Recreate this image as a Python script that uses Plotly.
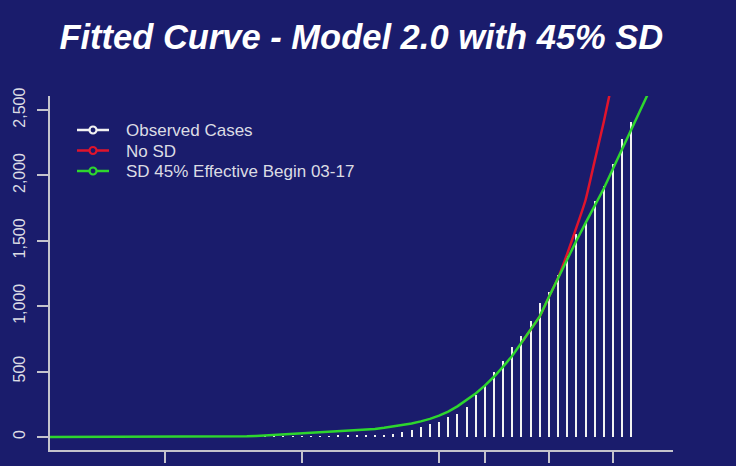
import plotly.graph_objects as go

# ---- data (day index; day 0 = first observed day) ----
obs_days = list(range(0, 41))
observed_cases = [1, 2, 2, 3, 4, 5, 7, 6, 8, 9, 11, 12, 16, 17, 22, 38, 56, 73, 96, 112,
                  155, 178, 229, 318, 394, 494, 578, 685, 774, 884, 1021, 1105, 1241, 1381,
                  1552, 1648, 1801, 1916, 2089, 2278, 2405]

model_days = list(range(-24, 43))
sd_curve = [0, 0, 0, 0, 0, 0, 0, 0, 0, 0, 0,
            1, 1, 1, 1, 2, 2, 2, 3, 3, 4, 4, 5,
            8, 12, 15, 18, 21, 25, 28, 32, 36, 40, 44, 48, 54, 61, 70, 80, 91, 103, 119,
            138, 163, 194, 234, 280, 332, 392, 460, 538, 620, 720, 820, 922, 1070, 1215,
            1355, 1500, 1635, 1765, 1900, 2050, 2200, 2350, 2500, 2650]

nosd_days = list(range(28, 39))
nosd_curve = [720, 820, 922, 1070, 1215, 1400, 1600, 1810, 2110, 2410, 2740]

y_tickvals = [0, 500, 1000, 1500, 2000, 2500]
y_ticktext = ["0", "500", "1,000", "1,500", "2,000", "2,500"]
x_tickvals = [-11, 4, 19, 24, 31, 38]

title_text = "Fitted Curve - Model 2.0 with 45% SD"
legend_names = ["Observed Cases", "No SD", "SD 45% Effective Begin 03-17"]

BG = "#1a1c6c"
AXIS = "#c4c4cc"
TXT = "#dcdce4"
WHITE = "#f2f2f2"
RED = "#e0142c"
GREEN = "#2ed62e"
legend_colors = [WHITE, RED, GREEN]

# plot area in pixels
L, R, T, B = 50, 673, 96, 450
W, H = 736, 466

fig = go.Figure()

fig.add_trace(go.Bar(x=obs_days, y=observed_cases, width=0.22,
                     marker=dict(color=WHITE, line=dict(width=0)),
                     showlegend=False, name=legend_names[0]))
fig.add_trace(go.Scatter(x=nosd_days, y=nosd_curve, mode="lines", name=legend_names[1],
                         line=dict(color=RED, width=2.5, shape="spline", smoothing=0.6),
                         showlegend=False))
fig.add_trace(go.Scatter(x=model_days, y=sd_curve, mode="lines", name=legend_names[2],
                         line=dict(color=GREEN, width=2.5), showlegend=False))

# hand-built legend (line + point + label), positioned in paper coordinates
def px_x(p):
    return (p - L) / (R - L)

def px_y(p):
    return (B - p) / (B - T)

shapes = []
annotations = []
row_y = [130, 150.5, 171]
for name, col, ry in zip(legend_names, legend_colors, row_y):
    shapes.append(dict(type="line", xref="paper", yref="paper",
                       x0=px_x(77), x1=px_x(109), y0=px_y(ry), y1=px_y(ry),
                       line=dict(color=col, width=2.5)))
    shapes.append(dict(type="circle", xref="paper", yref="paper",
                       x0=px_x(89.5), x1=px_x(96.5), y0=px_y(ry + 3.5), y1=px_y(ry - 3.5),
                       line=dict(color=col, width=2.2), fillcolor=BG))
    annotations.append(dict(text=name, xref="paper", yref="paper",
                            x=px_x(124), y=px_y(ry + 0.5), xanchor="left", yanchor="middle",
                            showarrow=False,
                            font=dict(family="Liberation Sans", size=17, color=TXT)))

fig.update_layout(
    width=W, height=H,
    margin=dict(l=L, r=W - R, t=T, b=H - B, autoexpand=False),
    paper_bgcolor=BG, plot_bgcolor=BG,
    bargap=0,
    showlegend=False,
    shapes=shapes,
    annotations=annotations,
    title=dict(text=title_text, x=0.491, xanchor="center", y=1 - 37 / H, yanchor="middle",
               yref="container",
               font=dict(family="Liberation Sans", size=34.5, color="white",
                         weight="bold", style="italic")),
    xaxis=dict(range=[-23.51, 44.56], showgrid=False, zeroline=False, automargin=False,
               showline=True, linecolor=AXIS, linewidth=1.5,
               ticks="outside", ticklen=11, tickcolor=AXIS, tickwidth=1.5,
               tickvals=x_tickvals, showticklabels=False),
    yaxis=dict(range=[-100, 2607], showgrid=False, zeroline=False, automargin=False,
               showline=True, linecolor=AXIS, linewidth=1.5,
               ticks="outside", ticklen=11, tickcolor=AXIS, tickwidth=1.5,
               tickvals=y_tickvals, ticktext=y_ticktext, tickangle=-90,
               tickfont=dict(family="Liberation Sans", size=16, color=TXT),
               ticklabelstandoff=6),
)

fig.write_html("out.html")
